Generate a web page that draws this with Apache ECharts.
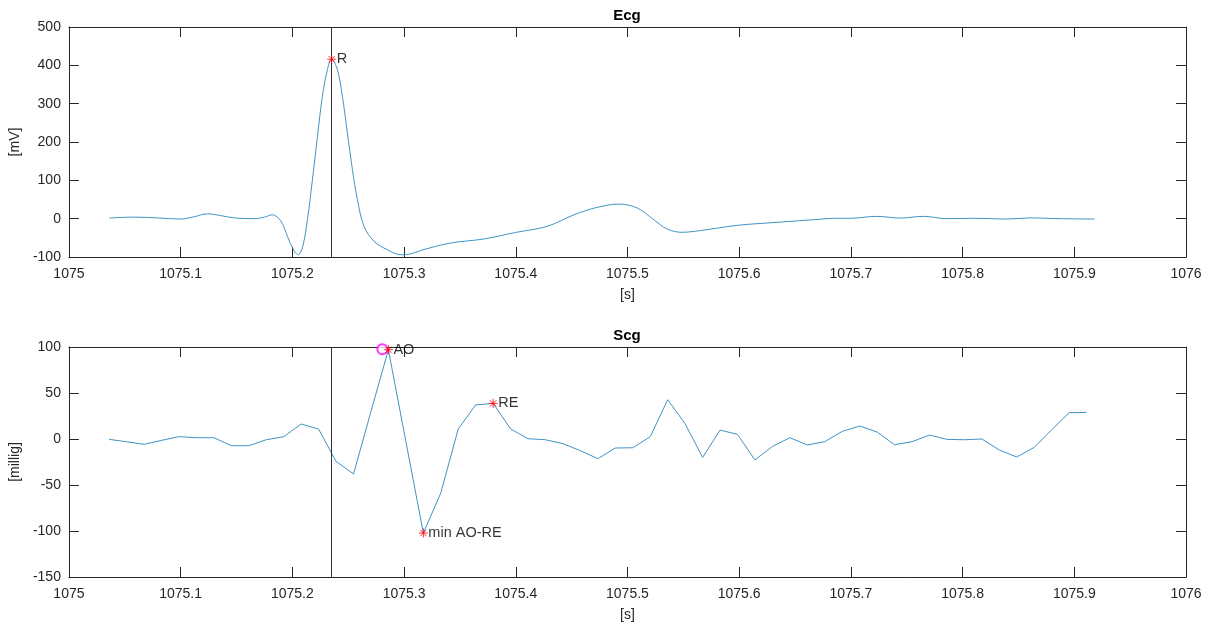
<!DOCTYPE html>
<html>
<head>
<meta charset="utf-8">
<script src="https://cdn.jsdelivr.net/npm/echarts@6/dist/echarts.min.js"></script>
<style>
  html, body { margin: 0; padding: 0; background: #fff; }
  #chart { width: 1211px; height: 627px; }
</style>
</head>
<body>
<div id="chart"></div>
<script>
// ECG trace (time in s, amplitude in mV)
const ecgTime = [
  1075.036, 1075.058, 1075.079, 1075.100, 1075.112, 1075.124, 1075.136, 1075.148,
  1075.166, 1075.175, 1075.182, 1075.1896, 1075.1956, 1075.2001, 1075.2051, 1075.2090,
  1075.2135, 1075.2180, 1075.2225, 1075.2269, 1075.2314, 1075.2352, 1075.2403, 1075.2448,
  1075.2493, 1075.2538, 1075.2582, 1075.2642, 1075.2731, 1075.2851, 1075.2970, 1075.3059,
  1075.3148, 1075.3417, 1075.3715, 1075.3998, 1075.4282, 1075.4520, 1075.4729, 1075.4923,
  1075.5086, 1075.5235, 1075.5355, 1075.5489, 1075.5653, 1075.5981, 1075.6339, 1075.6726,
  1075.6846, 1075.6995, 1075.7233, 1075.7442, 1075.7650, 1075.7860, 1075.8098, 1075.8396,
  1075.8605, 1075.8873, 1075.9183
];
const ecgValue = [
  1.7, 4, 2, -1, 5, 12.5, 8, 2,
  0, 4, 10, -6, -46, -76, -94, -76,
  -3, 102, 215, 319, 389, 416, 389, 319,
  223, 128, 50, -20, -59, -81, -94, -92,
  -83, -63.5, -53, -36, -20, 10, 29.5, 38,
  28, -2.5, -27, -35.5, -31, -17.5, -9.5, -1.5,
  1, 1, 6, 1.5, 6, 0, 1, -1,
  2, 0, -1
];

// SCG trace (time in s, acceleration in milli-g)
const scgTime = [
  1075.0360, 1075.0516, 1075.0673, 1075.0829, 1075.0985, 1075.1141, 1075.1298, 1075.1454,
  1075.1610, 1075.1766, 1075.1923, 1075.2079, 1075.2235, 1075.2391, 1075.2548, 1075.2704,
  1075.2860, 1075.3016, 1075.3173, 1075.3329, 1075.3485, 1075.3641, 1075.3798, 1075.3954,
  1075.4110, 1075.4266, 1075.4423, 1075.4579, 1075.4735, 1075.4891, 1075.5048, 1075.5204,
  1075.5360, 1075.5516, 1075.5673, 1075.5829, 1075.5985, 1075.6141, 1075.6298, 1075.6454,
  1075.6610, 1075.6766, 1075.6923, 1075.7079, 1075.7235, 1075.7391, 1075.7548, 1075.7704,
  1075.7860, 1075.8016, 1075.8173, 1075.8329, 1075.8485, 1075.8641, 1075.8798, 1075.8954,
  1075.9110
];
const scgValue = [
  -0.4, -3, -5.8, -1.5, 2.5, 1.4, 1.4, -7.3,
  -7.3, -0.8, 2.5, 16.3, 10.8, -24.3, -38, 30,
  97, -2.5, -102.2, -58.7, 10.9, 37, 38.7, 10.9,
  0.3, -0.8, -5.1, -12.7, -21.4, -9.8, -9.5, 2.5,
  42.7, 16.6, -20, 9.7, 5, -22.8, -8, 1.4,
  -6.5, -2.9, 8.3, 14.1, 7.6, -6.2, -2.9, 4.3,
  -0.4, -0.8, 0, -12, -19.6, -9.1, 10.1, 28.6,
  28.9
];

// Annotated fiducial points
const ecgMarkTime = [1075.2352];
const ecgMarkValue = [416];
const ecgMarkName = ['R'];
const scgMarkTime = [1075.2860, 1075.3173, 1075.3798];
const scgMarkValue = [97, -102.2, 38.7];
const scgMarkName = ['AO', 'min AO-RE', 'RE'];
const aoCandTime = [1075.2806];
const aoCandValue = [97.5];
const rTime = 1075.2352;

// Axis ranges / tick spacing
const xRange = [1075, 1076, 0.1];
const ecgRange = [-100, 500, 100];
const scgRange = [-150, 100, 50];

const zip = (a, b) => a.map((t, i) => [t, b[i]]);
const FONT = 'Liberation Sans, Arial, Helvetica, sans-serif';
const AX = '#262626';
const LINE = '#3f93c6';
const STAR = 'path://M5,0L5,10M0,5L10,5M1.5,1.5L8.5,8.5M1.5,8.5L8.5,1.5';

function xAxes(gridIndex, name) {
  const base = {
    type: 'value', gridIndex, min: xRange[0], max: xRange[1], interval: xRange[2],
    axisLine: { show: true, onZero: false, lineStyle: { color: AX, width: 1 } },
    axisTick: { show: true, inside: true, length: 10, lineStyle: { color: AX, width: 1 } },
    splitLine: { show: false }
  };
  return [
    Object.assign({}, base, {
      position: 'bottom',
      name, nameLocation: 'middle', nameGap: 31,
      nameTextStyle: { color: AX, fontSize: 14, fontFamily: FONT },
      axisLabel: {
        color: AX, fontSize: 14, fontFamily: FONT, margin: 10,
        formatter: v => String(Math.round(v * 10) / 10)
      }
    }),
    Object.assign({}, base, { position: 'top', axisLabel: { show: false } })
  ];
}

function yAxes(gridIndex, range, name) {
  const base = {
    type: 'value', gridIndex, min: range[0], max: range[1], interval: range[2],
    axisLine: { show: true, onZero: false, lineStyle: { color: AX, width: 1 } },
    axisTick: { show: true, inside: true, length: 10, lineStyle: { color: AX, width: 1 } },
    splitLine: { show: false }
  };
  return [
    Object.assign({}, base, {
      position: 'left',
      name, nameLocation: 'middle', nameGap: 38,
      nameTextStyle: { color: AX, fontSize: 14, fontFamily: FONT },
      axisLabel: { color: AX, fontSize: 14, fontFamily: FONT, margin: 8 }
    }),
    Object.assign({}, base, { position: 'right', axisLabel: { show: false } })
  ];
}

const vLine = {
  silent: true, symbol: 'none', label: { show: false }, animation: false,
  precision: 6,
  lineStyle: { color: '#333', width: 1, type: 'solid' },
  emphasis: { disabled: true },
  data: [{ xAxis: rTime }]
};

function starSeries(xi, yi, times, values, names) {
  return {
    type: 'scatter', xAxisIndex: xi, yAxisIndex: yi, clip: false, z: 5,
    symbol: STAR, symbolSize: 9,
    itemStyle: { color: 'rgba(0,0,0,0)', borderColor: '#ff0000', borderWidth: 1 },
    label: {
      show: true, position: 'right', distance: 0,
      color: '#000', fontSize: 14.5, fontFamily: FONT,
      formatter: p => names[p.dataIndex]
    },
    data: zip(times, values)
  };
}

const chart = echarts.init(document.getElementById('chart'), null, { renderer: 'canvas' });
chart.setOption({
  animation: false,
  backgroundColor: '#fff',
  title: [
    { text: 'Ecg', left: 627, textAlign: 'center', top: 8, padding: 0,
      textStyle: { fontSize: 15, fontWeight: 'bold', color: '#000', fontFamily: FONT } },
    { text: 'Scg', left: 627, textAlign: 'center', top: 328, padding: 0,
      textStyle: { fontSize: 15, fontWeight: 'bold', color: '#000', fontFamily: FONT } }
  ],
  grid: [
    { left: 68, top: 27, width: 1118, height: 230 },
    { left: 68, top: 347, width: 1118, height: 230 }
  ],
  xAxis: [...xAxes(0, '[s]'), ...xAxes(1, '[s]')],
  yAxis: [...yAxes(0, ecgRange, '[mV]'), ...yAxes(1, scgRange, '[millig]')],
  series: [
    {
      type: 'line', xAxisIndex: 0, yAxisIndex: 0, data: zip(ecgTime, ecgValue),
      showSymbol: false, smooth: 0.35, lineStyle: { color: LINE, width: 1 },
      markLine: vLine
    },
    starSeries(0, 0, ecgMarkTime, ecgMarkValue, ecgMarkName),
    {
      type: 'line', xAxisIndex: 2, yAxisIndex: 2, data: zip(scgTime, scgValue),
      showSymbol: false, lineStyle: { color: LINE, width: 1 },
      markLine: vLine
    },
    {
      type: 'scatter', xAxisIndex: 2, yAxisIndex: 2, clip: false, z: 4,
      symbol: 'emptyCircle', symbolSize: 10,
      itemStyle: { color: '#ff00ff', borderColor: '#ff00ff', borderWidth: 1 },
      data: zip(aoCandTime, aoCandValue)
    },
    starSeries(2, 2, scgMarkTime, scgMarkValue, scgMarkName)
  ]
});
</script>
</body>
</html>
